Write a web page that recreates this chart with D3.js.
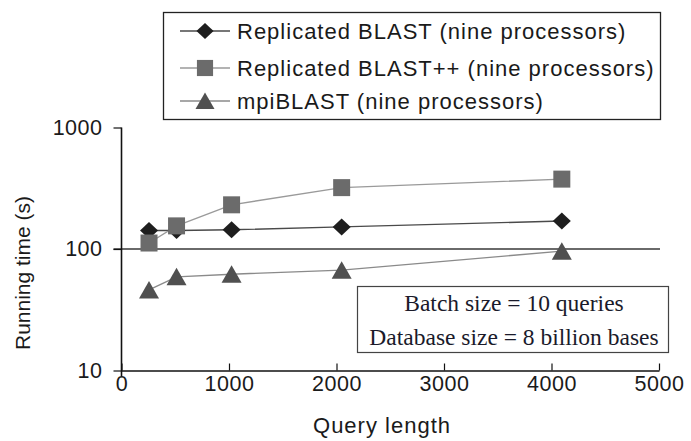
<!DOCTYPE html>
<html lang="en">
<head>
  <meta charset="UTF-8">
  <title>Running time vs query length</title>
  <script src="https://d3js.org/d3.v7.min.js"></script>
  <style>
    body { margin: 0; background: #fff; }
    svg { display: block; font-family: "Liberation Sans", Arial, sans-serif; }
    .tick text { font-size: 21.5px; fill: #1a1a1a; letter-spacing: 0.5px; }
  </style>
</head>
<body>
<svg width="691" height="441"></svg>
<script>
  const queryLengths = [256, 512, 1024, 2048, 4096];
  const replicatedBlast = [142, 142, 144, 152, 170];
  const replicatedBlastPP = [112, 155, 231, 320, 376];
  const mpiBlast = [46, 59, 62, 67, 96];
  const xTicks = [0, 1000, 2000, 3000, 4000, 5000];
  const yTicks = [10, 100, 1000];

  const series = [
    { name: "Replicated BLAST (nine processors)", values: replicatedBlast, marker: "diamond", fill: "#1e1e1e", line: "#4a4a4a" },
    { name: "Replicated BLAST++ (nine processors)", values: replicatedBlastPP, marker: "square", fill: "#6b6b6b", line: "#9a9a9a" },
    { name: "mpiBLAST (nine processors)", values: mpiBlast, marker: "triangle", fill: "#505050", line: "#8a8a8a" }
  ];

  const svg = d3.select("svg");
  const plotL = 121.5, plotR = 659, plotT = 127.5, plotB = 370.5;

  const x = d3.scaleLinear().domain([0, 5000]).range([plotL, plotR]);
  const y = d3.scaleLog().domain([10, 1000]).range([plotB, plotT]);

  // marker shapes, centred on the point
  function markerPath(type) {
    if (type === "diamond") return "M0,-8.5L9,0L0,8.5L-9,0Z";
    if (type === "square") return "M-8.5,-8.5H8.5V8.5H-8.5Z";
    return "M0,-9L10,8.5H-10Z";
  }

  // gridline at 100
  svg.append("line")
    .attr("x1", plotL - 8).attr("x2", plotR + 1)
    .attr("y1", y(100)).attr("y2", y(100))
    .attr("stroke", "#6a6a6a").attr("stroke-width", 2);

  // y axis
  const yAxis = svg.append("g")
    .attr("transform", `translate(${plotL},0)`)
    .call(d3.axisLeft(y).tickValues(yTicks).tickFormat(d3.format("d")).tickSize(8).tickPadding(11));
  yAxis.select(".domain").remove();
  yAxis.selectAll(".tick line").attr("stroke", "#111").attr("stroke-width", 1.2);
  svg.append("line")
    .attr("x1", plotL).attr("x2", plotL)
    .attr("y1", plotT).attr("y2", plotB + 6)
    .attr("stroke", "#111").attr("stroke-width", 1.6);

  // x axis
  const xAxis = svg.append("g")
    .attr("transform", `translate(0,${plotB})`)
    .call(d3.axisBottom(x).tickValues(xTicks).tickFormat(d3.format("d")).tickSizeInner(-7).tickSizeOuter(0).tickPadding(6));
  xAxis.select(".domain").attr("stroke", "#111").attr("stroke-width", 1.4);
  xAxis.selectAll(".tick line").attr("stroke", "#111").attr("stroke-width", 1.2);
  xAxis.selectAll(".tick text").attr("dy", "0.71em").attr("y", 5);

  // axis titles
  svg.append("text")
    .attr("transform", `translate(30,273) rotate(-90)`)
    .attr("text-anchor", "middle")
    .attr("font-size", 21).attr("fill", "#1a1a1a")
    .text("Running time (s)");
  svg.append("text")
    .attr("x", 382).attr("y", 433)
    .attr("text-anchor", "middle")
    .attr("font-size", 22).attr("fill", "#1a1a1a")
    .attr("letter-spacing", 1)
    .text("Query length");

  // series lines then markers
  const line = d3.line().x((d, i) => x(queryLengths[i])).y(d => y(d));
  series.forEach(s => {
    svg.append("path")
      .attr("d", line(s.values))
      .attr("fill", "none")
      .attr("stroke", s.line).attr("stroke-width", 1.4);
  });
  series.forEach(s => {
    svg.append("g").selectAll("path")
      .data(s.values)
      .join("path")
      .attr("transform", (d, i) => `translate(${x(queryLengths[i])},${y(d)})`)
      .attr("d", markerPath(s.marker))
      .attr("fill", s.fill);
  });

  // legend
  const legend = svg.append("g");
  legend.append("rect")
    .attr("x", 163.5).attr("y", 12.5).attr("width", 497).attr("height", 107)
    .attr("fill", "#fff").attr("stroke", "#222").attr("stroke-width", 1.3);
  const rowY = [31, 68, 101];
  series.forEach((s, i) => {
    const g = legend.append("g").attr("transform", `translate(0,${rowY[i]})`);
    g.append("line").attr("x1", 180).attr("x2", 230).attr("y1", 0).attr("y2", 0)
      .attr("stroke", s.line).attr("stroke-width", 1.4);
    g.append("path").attr("transform", "translate(205,0) scale(0.95)")
      .attr("d", markerPath(s.marker)).attr("fill", s.fill);
    g.append("text").attr("x", 237).attr("y", 0).attr("dy", "0.36em")
      .attr("font-size", 22).attr("fill", "#1a1a1a")
      .attr("letter-spacing", 1)
      .text(s.name);
  });

  // annotation box
  const note = svg.append("g");
  note.append("rect")
    .attr("x", 357.5).attr("y", 286.5).attr("width", 311).attr("height", 66)
    .attr("fill", "#fff").attr("stroke", "#444").attr("stroke-width", 1.2);
  ["Batch size = 10 queries", "Database size = 8 billion bases"].forEach((t, i) => {
    note.append("text")
      .attr("x", 514).attr("y", [303, 337][i]).attr("dy", "0.35em")
      .attr("text-anchor", "middle")
      .attr("font-family", "'Liberation Serif', 'Times New Roman', serif")
      .attr("font-size", 23.5).attr("fill", "#1a1a2a")
      .text(t);
  });
</script>
</body>
</html>
